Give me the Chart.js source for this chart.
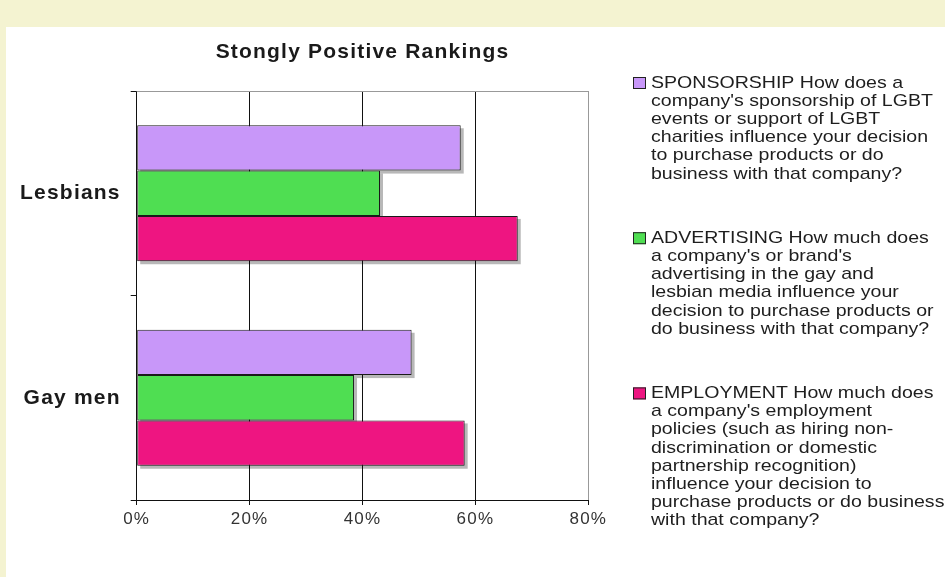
<!DOCTYPE html>
<html>
<head>
<meta charset="utf-8">
<title>Stongly Positive Rankings</title>
<script src="https://cdn.jsdelivr.net/npm/chart.js@4.4.1/dist/chart.umd.min.js"></script>
<style>
  html, body { margin: 0; padding: 0; background: #f4f3d1; }
  body { width: 945px; height: 577px; position: relative; overflow: hidden; }
  #panel { position: absolute; left: 6px; top: 27px; width: 939px; height: 550px; background: #fff; }
  #chart { display: block; }
</style>
</head>
<body>
<div id="panel"><canvas id="chart" width="939" height="550"></canvas></div>
<script>
// survey groups and share of "strongly positive" answers (%)
var groups = ['Lesbians', 'Gay men'];
var sponsorship = [57.4, 48.7];
var advertising = [43.1, 38.5];
var employment = [67.5, 58.1];
var tickValues = [0, 20, 40, 60, 80];

var seriesNames = ['SPONSORSHIP', 'ADVERTISING', 'EMPLOYMENT'];
var seriesColors = ['#c897f9', '#4fde52', '#ee1581'];
var legendLines = [
    ['SPONSORSHIP How does a', "company's sponsorship of LGBT", 'events or support of LGBT',
     'charities influence your decision', 'to purchase products or do', 'business with that company?'],
    ['ADVERTISING How much does', "a company's or brand's", 'advertising in the gay and',
     'lesbian media influence your', 'decision to purchase products or', 'do business with that company?'],
    ['EMPLOYMENT How much does', "a company's employment", 'policies (such as hiring non-',
     'discrimination or domestic', 'partnership recognition)', 'influence your decision to',
     'purchase products or do business', 'with that company?']
];

var FONT = '"Liberation Sans", Arial, Helvetica, sans-serif';

// wide lettering, canvas state is reset on resize so set it before layout and draw
var spacing = {
    id: 'spacing',
    beforeLayout: function (chart) { chart.ctx.letterSpacing = '1.2px'; },
    beforeDraw: function (chart) { chart.ctx.letterSpacing = '1.2px'; }
};

// grey drop shadow under every bar, plus the grey top frame line
var barShadow = {
    id: 'barShadow',
    beforeDatasetsDraw: function (chart) {
        var ctx = chart.ctx;
        var area = chart.chartArea;
        ctx.save();
        ctx.strokeStyle = '#999';
        ctx.lineWidth = 1;
        ctx.beginPath();
        ctx.moveTo(area.left, area.top + 0.5);
        ctx.lineTo(area.right, area.top + 0.5);
        ctx.stroke();
        ctx.fillStyle = 'rgba(0, 0, 0, 0.28)';
        chart.data.datasets.forEach(function (ds, i) {
            chart.getDatasetMeta(i).data.forEach(function (bar) {
                var p = bar.getProps(['x', 'y', 'base', 'height'], true);
                var left = Math.min(p.base, p.x);
                var right = Math.max(p.base, p.x);
                ctx.fillRect(left + 3, p.y - p.height / 2 + 3, right - left, p.height);
            });
        });
        ctx.restore();
    }
};

// multi-line legend on the right side, text drawn a bit stretched
var sideLegend = {
    id: 'sideLegend',
    afterDraw: function (chart) {
        var ctx = chart.ctx;
        var boxX = 627, textX = 645, lineH = 18.2, gap = 46, stretch = 1.15;
        var y = 56;
        ctx.save();
        ctx.letterSpacing = '0px';
        ctx.font = '17px ' + FONT;
        ctx.textBaseline = 'middle';
        ctx.textAlign = 'left';
        legendLines.forEach(function (lines, i) {
            ctx.fillStyle = chart.data.datasets[i].backgroundColor;
            ctx.fillRect(boxX, y - 6, 13, 12);
            ctx.strokeStyle = '#222';
            ctx.lineWidth = 1;
            ctx.strokeRect(boxX + 0.5, y - 5.5, 12, 11);
            ctx.fillStyle = '#1e1e1e';
            lines.forEach(function (line, j) {
                ctx.save();
                ctx.translate(textX, y + j * lineH);
                ctx.scale(stretch, 1);
                ctx.fillText(line, 0, 0);
                ctx.restore();
            });
            y += lines.length * lineH + gap;
        });
        ctx.restore();
    }
};

var datasets = [sponsorship, advertising, employment].map(function (values, i) {
    return {
        label: seriesNames[i],
        data: values,
        backgroundColor: seriesColors[i],
        borderColor: '#1a1a1a',
        borderWidth: 1,
        borderSkipped: false,
        categoryPercentage: 0.665,
        barPercentage: 1
    };
});

var ctx = document.getElementById('chart').getContext('2d');
new Chart(ctx, {
    type: 'bar',
    data: { labels: groups, datasets: datasets },
    options: {
        indexAxis: 'y',
        responsive: false,
        animation: false,
        layout: { padding: { left: 0, right: 356.7, top: 0, bottom: 0 } },
        plugins: {
            legend: { display: false },
            tooltip: { enabled: false },
            title: {
                display: true,
                text: 'Stongly Positive Rankings',
                fullSize: false,
                color: '#1a1a1a',
                font: { family: FONT, size: 21, weight: 'bold' },
                padding: { top: 13, bottom: 25.8 }
            }
        },
        scales: {
            x: {
                min: tickValues[0],
                max: tickValues[tickValues.length - 1],
                afterBuildTicks: function (scale) {
                    scale.ticks = tickValues.map(function (v) { return { value: v }; });
                },
                afterFit: function (scale) { scale.height = 77; },
                ticks: {
                    color: '#333',
                    padding: 4,
                    font: { family: FONT, size: 17 },
                    callback: function (v) { return v + '%'; }
                },
                grid: {
                    color: function (c) { return c.tick && c.tick.value === 80 ? '#999' : '#111'; },
                    tickColor: '#111',
                    lineWidth: 1,
                    tickLength: 5
                },
                border: { color: '#111', width: 1 }
            },
            y: {
                afterFit: function (scale) { scale.width = 130.7; },
                ticks: {
                    color: '#1a1a1a',
                    padding: 10,
                    font: { family: FONT, size: 21, weight: 'bold' }
                },
                grid: {
                    drawOnChartArea: false,
                    color: '#111',
                    tickLength: 6
                },
                border: { color: '#111', width: 1 }
            }
        }
    },
    plugins: [spacing, barShadow, sideLegend]
});
</script>
</body>
</html>
